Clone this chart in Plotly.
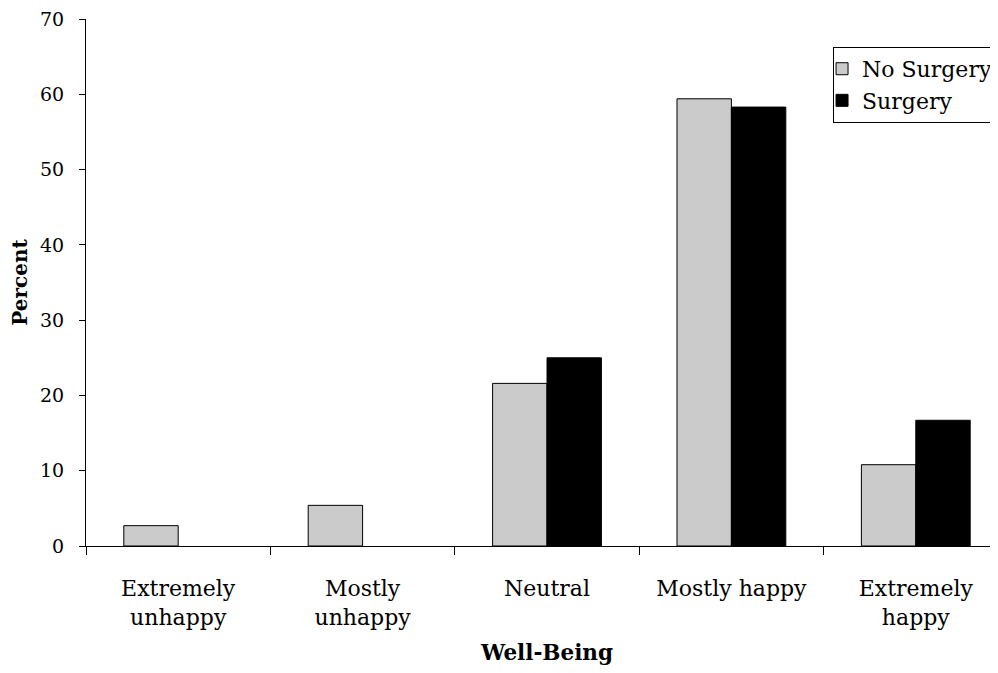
import plotly.graph_objects as go

categories = ["Extremely<br>unhappy", "Mostly<br>unhappy", "Neutral", "Mostly happy", "Extremely<br>happy"]
no_surgery = [2.7, 5.4, 21.6, 59.4, 10.8]
surgery = [None, None, 25.0, 58.3, 16.7]
y_ticks = [0, 10, 20, 30, 40, 50, 60, 70]

FONT = "DejaVu Serif"

fig = go.Figure()
fig.add_trace(go.Bar(name="No Surgery", x=categories, y=no_surgery,
                     marker=dict(color="#CBCBCB", line=dict(color="black", width=1))))
fig.add_trace(go.Bar(name="Surgery", x=categories, y=surgery,
                     marker=dict(color="black", line=dict(color="black", width=1))))

fig.update_layout(
    width=1000, height=657,
    margin=dict(l=78, r=0, t=11, b=119),
    paper_bgcolor="white", plot_bgcolor="white",
    barmode="group", bargap=0.41, bargroupgap=0,
    font=dict(family=FONT, size=21, color="black"),
    legend=dict(x=0.9892, xanchor="right", y=0.947, yanchor="top",
                bordercolor="black", borderwidth=1, bgcolor="white",
                font=dict(family=FONT, size=22), itemwidth=30,
                indentation=-12, tracegroupgap=0),
    xaxis=dict(showline=True, linecolor="black", linewidth=1,
               ticks="outside", ticklen=8, tickcolor="black", tickson="boundaries",
               showgrid=False, ticklabelstandoff=23, tickfont=dict(size=22),
               title=dict(text="<b>Well-Being</b>", font=dict(family=FONT, size=21.5), standoff=20)),
    yaxis=dict(range=[0, 70], tickvals=y_ticks, showline=True, linecolor="black", linewidth=1,
               ticks="outside", ticklen=6, tickcolor="black", showgrid=False, zeroline=False,
               ticklabeloverflow="allow", ticklabelstandoff=11, tickfont=dict(size=19),
               title=dict(text="<b>Percent</b>", font=dict(family=FONT, size=20), standoff=12)),
    showlegend=True,
)

fig.write_html("out.html")
